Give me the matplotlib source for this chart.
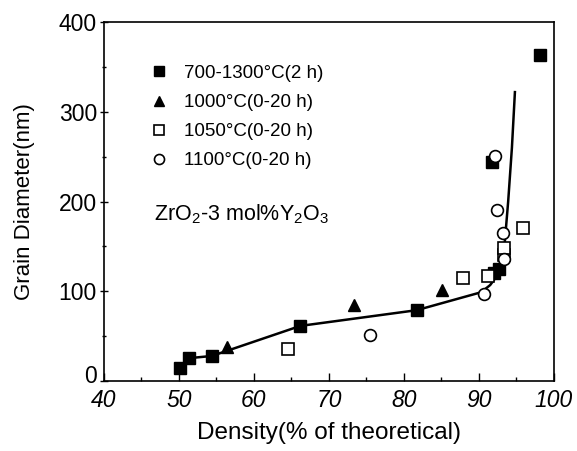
import matplotlib
matplotlib.use("Agg")
import matplotlib.pyplot as plt
import matplotlib.transforms as mtransforms

plt.rcParams['font.family'] = ['Liberation Sans', 'DejaVu Sans']
plt.rcParams['mathtext.fontset'] = 'custom'
plt.rcParams['mathtext.rm'] = 'Liberation Sans'
plt.rcParams['mathtext.it'] = 'Liberation Sans:italic'

# Data
sq_filled_x = [50.1, 51.3, 54.4, 66.2, 81.7, 92.0, 92.7, 91.8, 98.2]
sq_filled_y = [14.5, 25.5, 28.0, 61.5, 79.0, 120.0, 125.0, 244.0, 363.0]

tri_x = [56.4, 73.3, 85.1]
tri_y = [38.0, 85.0, 102.0]

sq_open_x = [64.5, 87.9, 91.2, 93.4, 93.4, 95.9]
sq_open_y = [36.0, 115.0, 117.0, 140.0, 148.0, 171.0]

circ_x = [75.5, 90.7, 93.3, 93.2, 92.4, 92.1]
circ_y = [51.0, 97.0, 136.0, 165.0, 191.0, 251.0]

fit_x = [50.1, 51.3, 54.4, 66.2, 81.7, 90.3, 91.5, 92.3, 92.9, 93.4, 93.9, 94.4, 94.8]
fit_y = [14.5, 25.5, 28.0, 61.5, 79.0, 99.0, 107.0, 116.0, 128.0, 150.0, 200.0, 260.0, 322.0]

labels = ['700-1300°C(2 h)', '1000°C(0-20 h)', '1050°C(0-20 h)', '1100°C(0-20 h)']

fig = plt.figure(figsize=(5.77, 4.51), dpi=100)
ax = fig.add_axes([0.180, 0.155, 0.780, 0.796])

ax.plot(fit_x, fit_y, color='black', lw=1.8, zorder=2)
ax.plot(sq_filled_x, sq_filled_y, 's', color='black', ms=8.5, ls='none', label=labels[0], zorder=3)
ax.plot(tri_x, tri_y, '^', color='black', ms=9, ls='none', label=labels[1], zorder=3)
ax.plot(sq_open_x, sq_open_y, 's', mfc='white', mec='black', mew=1.2, ms=8, ls='none', label=labels[2], zorder=3)
ax.plot(circ_x, circ_y, 'o', mfc='white', mec='black', mew=1.2, ms=8.5, ls='none', label=labels[3], zorder=3)

ax.set_xlim(40, 100)
ax.set_ylim(0, 400)
ax.set_xticks([40, 50, 60, 70, 80, 90, 100])
ax.set_xticks([45, 55, 65, 75, 85, 95], minor=True)
ax.set_yticks([0, 100, 200, 300, 400])
ax.set_yticks([50, 150, 250, 350], minor=True)
ax.tick_params(axis='x', which='both', direction='in', labelsize=16.5, pad=6)
ax.tick_params(axis='y', which='both', direction='inout', labelsize=16.5, pad=2)
ax.tick_params(which='major', length=6, width=1)
ax.tick_params(which='minor', length=3, width=1)
for lab in ax.get_xticklabels():
    lab.set_style('italic')
for s in ax.spines.values():
    s.set_linewidth(1.2)

# nudge the "0" label slightly up so it does not collide with "40"
ylab0 = ax.get_yticklabels()[0]
ylab0.set_transform(ylab0.get_transform() +
                    mtransforms.ScaledTranslation(0, 5 / 72, fig.dpi_scale_trans))

ax.set_xlabel('Density(% of theoretical)', fontsize=17.5, labelpad=7)
ax.set_ylabel('Grain Diameter(nm)', fontsize=16, labelpad=17)

leg = ax.legend(loc='upper left', bbox_to_anchor=(0.06, 0.928), frameon=False,
                fontsize=13.5, handletextpad=0.75, labelspacing=0.64, handlelength=1.2,
                markerscale=0.85)

ax.text(0.112, 0.465, r'ZrO$_2$-3 mol%Y$_2$O$_3$', transform=ax.transAxes,
        fontsize=15.5, va='center', ha='left')

fig.savefig('out.png', dpi=100)
